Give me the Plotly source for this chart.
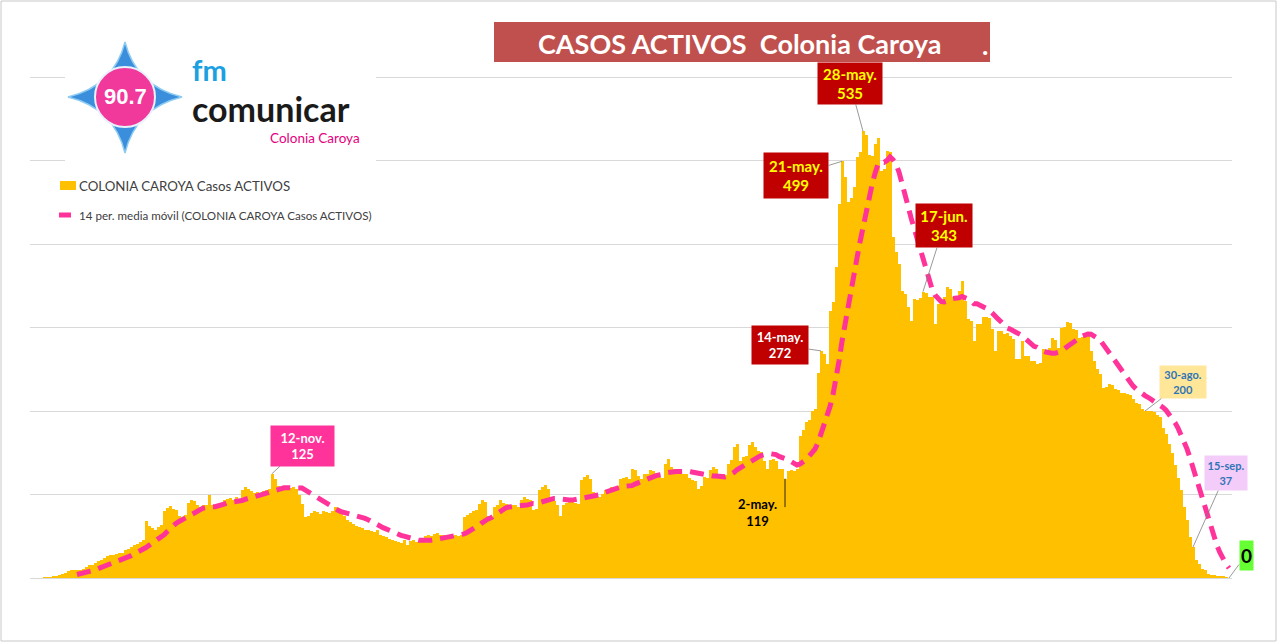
import pandas as pd
import plotly.graph_objects as go

# ---------------- DATA ----------------
start_date = "2020-08-26"
active_cases = [
    0, 0, 1, 1, 1, 2, 2, 4, 5, 6,                      # d0-9
    8, 9, 10, 10, 9, 11, 13, 15, 16, 18,               # d10-19
    20, 22, 24, 26, 27, 28, 29, 30, 30, 33,            # d20-29
    35, 37, 39, 41, 43, 45, 68, 62, 60, 58,            # d30-39
    61, 63, 80, 84, 86, 83, 81, 74, 71, 76,            # d40-49
    90, 93, 92, 88, 85, 88, 87, 99, 87, 85,            # d50-59
    89, 88, 93, 95, 96, 94, 97, 95, 105, 109,          # d60-69
    107, 104, 102, 103, 101, 104, 105, 107, 125, 118,  # d70-79
    110, 109, 108, 110, 108, 109, 107, 100, 89, 73,    # d80-89
    74, 78, 80, 79, 77, 80, 79, 78, 80, 85,            # d90-99
    84, 77, 74, 70, 67, 65, 62, 61, 60, 58,            # d100-109
    57, 56, 55, 57, 52, 50, 49, 47, 46, 44,            # d110-119
    43, 42, 45, 39, 44, 45, 43, 44, 48, 50,            # d120-129
    51, 50, 53, 54, 52, 51, 50, 52, 50, 51,            # d130-139
    50, 52, 73, 75, 78, 80, 81, 89, 93, 91,            # d140-149
    74, 72, 85, 88, 93, 90, 89, 86, 88, 87,            # d150-159
    85, 93, 97, 95, 94, 81, 83, 105, 109, 111,         # d160-169
    107, 95, 92, 88, 74, 87, 90, 91, 93, 90,           # d170-179
    89, 117, 121, 123, 119, 103, 99, 97, 101, 105,     # d180-189
    107, 109, 108, 110, 118, 120, 121, 119, 131, 129,  # d190-199
    122, 119, 124, 125, 129, 128, 122, 121, 120, 137,  # d200-209
    143, 133, 131, 130, 126, 125, 124, 120, 117, 116,  # d210-219
    107, 110, 121, 120, 129, 133, 131, 124, 121, 123,  # d220-229
    137, 141, 157, 161, 140, 145, 146, 159, 163, 157,  # d230-239
    152, 151, 140, 131, 141, 143, 140, 131, 130, 119,  # d240-249
    128, 129, 128, 130, 170, 177, 187, 189, 200, 203,  # d250-259
    245, 272, 268, 256, 320, 330, 372, 448, 499, 480,  # d260-269
    450, 455, 468, 504, 510, 535, 530, 507, 505, 520,  # d270-279
    527, 488, 490, 511, 510, 408, 390, 376, 344, 340,  # d280-289
    325, 308, 334, 333, 335, 343, 341, 336, 336, 304,  # d290-299
    328, 329, 336, 348, 346, 336, 337, 344, 356, 332,  # d300-309
    310, 308, 284, 304, 304, 312, 313, 311, 298, 272,  # d310-319
    296, 296, 292, 293, 290, 286, 262, 262, 284, 266,  # d320-329
    266, 260, 260, 256, 258, 274, 272, 276, 288, 285,  # d330-339
    276, 300, 301, 306, 305, 298, 297, 288, 289, 292,  # d340-349
    291, 272, 260, 250, 244, 228, 229, 232, 231, 226,  # d350-359
    225, 222, 221, 220, 219, 214, 210, 208, 202, 200,  # d360-369
    200, 200, 199, 195, 193, 180, 173, 160, 150, 135,  # d370-379
    120, 105, 85, 70, 49, 37, 22, 17, 11, 9,           # d380-389
    5, 4, 4, 3, 2, 2, 1, 0,                            # d390-397
]
series_names = ["COLONIA CAROYA Casos ACTIVOS",
                "14 per. media móvil (COLONIA CAROYA Casos ACTIVOS)"]
label_dates = ["2020-11-12", "2021-05-02", "2021-05-14", "2021-05-21",
               "2021-05-28", "2021-06-17", "2021-08-30", "2021-09-15", "2021-09-27"]
label_names = ["12-nov.", "2-may.", "14-may.", "21-may.",
               "28-may.", "17-jun.", "30-ago.", "15-sep.", ""]
title_text = "CASOS ACTIVOS  Colonia Caroya"

dates = pd.date_range(start_date, periods=len(active_cases), freq="D")
cases = pd.Series(active_cases, index=dates)
ma14 = cases.rolling(14).mean()

# ---------------- LAYOUT GEOMETRY ----------------
W, H = 1280, 644
L, R, T, B = 30, 1232, 74, 578
Y_TOP = (B - T) / (501 / 600)   # keeps 600 at y=77 px
FONT = "Lato, Carlito, Calibri, 'Open Sans', sans-serif"


def px(x):
    return (x - L) / (R - L)


def py(y):
    return (B - y) / (B - T)


def pt(x, y):
    return f"{px(x):.5f},{py(y):.5f}"


fig = go.Figure()
fig.add_trace(go.Bar(x=dates, y=cases.values, name=series_names[0],
                     marker=dict(color="#FFC000", line=dict(width=0)),
                     showlegend=False, hoverinfo="x+y"))
fig.add_trace(go.Scatter(x=dates, y=ma14.values, name=series_names[1], mode="lines",
                         line=dict(color="#FF3399", width=5, dash="14px,8px"),
                         showlegend=False, hoverinfo="x+y"))

shapes = []
annotations = []

# frame
shapes.append(dict(type="rect", xref="paper", yref="paper", x0=px(1), x1=px(1276),
                   y0=py(1), y1=py(641), line=dict(color="#C8C8C8", width=1),
                   fillcolor="rgba(0,0,0,0)", layer="above"))
# title box
shapes.append(dict(type="rect", xref="paper", yref="paper", x0=px(494), x1=px(990),
                   y0=py(22), y1=py(62), line=dict(width=0), fillcolor="#C0504D",
                   layer="above"))
annotations.append(dict(xref="paper", yref="paper", x=px(739), y=py(44), text="<b>" + title_text + "</b>",
                        showarrow=False, font=dict(family=FONT, size=27, color="white"),
                        xanchor="center", yanchor="middle"))
annotations.append(dict(xref="paper", yref="paper", x=px(985), y=py(45), text="<b>.</b>",
                        showarrow=False, font=dict(family=FONT, size=27, color="white"),
                        xanchor="center", yanchor="middle"))

# logo white background
shapes.append(dict(type="rect", xref="paper", yref="paper", x0=px(65), x1=px(376),
                   y0=py(28), y1=py(171), line=dict(width=0), fillcolor="white",
                   layer="above"))

star = ("M " + pt(125, 42) + " Q " + pt(136, 86) + " " + pt(182, 97) +
        " Q " + pt(136, 108) + " " + pt(125, 153) +
        " Q " + pt(114, 108) + " " + pt(68, 97) +
        " Q " + pt(114, 86) + " " + pt(125, 42) + " Z")
shapes.append(dict(type="path", xref="paper", yref="paper", path=star,
                   fillcolor="#3A8EDC", line=dict(color="#8CCBF2", width=1.5), layer="above"))
shapes.append(dict(type="circle", xref="paper", yref="paper", x0=px(95), x1=px(155),
                   y0=py(67), y1=py(127), fillcolor="#F0399B",
                   line=dict(color="#E8F2FC", width=2), layer="above"))
annotations.append(dict(xref="paper", yref="paper", x=px(125), y=py(97), text="<b>90.7</b>",
                        showarrow=False, font=dict(family="Liberation Sans, Arial", size=22, color="white"),
                        xanchor="center", yanchor="middle"))
# logo wordmark
annotations.append(dict(xref="paper", yref="paper", x=px(191), y=py(69), text="<b>fm</b>",
                        showarrow=False, borderpad=0,
                        font=dict(family="Lato, sans-serif", size=29, color="#1BA0E2"),
                        xanchor="left", yanchor="middle"))
annotations.append(dict(xref="paper", yref="paper", x=px(191), y=py(108.5), text="<b>comunicar</b>",
                        showarrow=False, borderpad=0,
                        font=dict(family="Lato, sans-serif", size=34, color="#1A1A1A"),
                        xanchor="left", yanchor="middle"))
annotations.append(dict(xref="paper", yref="paper", x=px(361), y=py(138), text="Colonia Caroya",
                        showarrow=False, borderpad=0,
                        font=dict(family="Lato, sans-serif", size=13.5, color="#E6007E"),
                        xanchor="right", yanchor="middle"))

# custom legend
shapes.append(dict(type="rect", xref="paper", yref="paper", x0=px(60), x1=px(76),
                   y0=py(181), y1=py(190), line=dict(width=0), fillcolor="#FFC000", layer="above"))
annotations.append(dict(xref="paper", yref="paper", x=px(77), y=py(186), text=series_names[0],
                        showarrow=False, font=dict(family=FONT, size=13.3, color="#404040"),
                        xanchor="left", yanchor="middle"))
shapes.append(dict(type="line", xref="paper", yref="paper", x0=px(59), x1=px(71),
                   y0=py(215), y1=py(215), line=dict(color="#FF3399", width=5), layer="above"))
annotations.append(dict(xref="paper", yref="paper", x=px(77), y=py(215), text=series_names[1],
                        showarrow=False, font=dict(family=FONT, size=11.6, color="#404040"),
                        xanchor="left", yanchor="middle"))

# data labels
label_styles = [
    dict(ax=30, ay=-28, w=63, h=40, bg="#FF3399", fc="white", fs=13),
    dict(ax=-28, ay=34, w=50, h=38, bg=None, fc="black", fs=13),
    dict(ax=-41, ay=-6, w=56, h=38, bg="#C00000", fc="white", fs=13),
    dict(ax=-46, ay=14, w=64, h=45, bg="#C00000", fc="#FFFF00", fs=15),
    dict(ax=-13, ay=-48, w=64, h=41, bg="#C00000", fc="#FFFF00", fs=15),
    dict(ax=21, ay=-66, w=56, h=43, bg="#C00000", fc="#FFFF00", fs=15),
    dict(ax=38, ay=-29, w=46, h=32, bg="#FFE699", fc="#2E75B6", fs=11),
    dict(ax=33, ay=-74, w=42, h=34, bg="#F4CCF9", fc="#2E75B6", fs=11),
    dict(ax=17, ay=-23, w=13, h=29, bg="#66FF33", fc="black", fs=19),
]
for d, name, st in zip(label_dates, label_names, label_styles):
    val = int(cases.loc[pd.Timestamp(d)])
    txt = f"<b>{name}<br>{val}</b>" if name else f"<b>{val}</b>"
    if st["bg"] is None:
        annotations.append(dict(x=d, y=val, xref="x", yref="y", text="", showarrow=True,
                                arrowhead=0, arrowwidth=0.8, arrowcolor="#000000",
                                ax=0, ay=30, standoff=0))
        annotations.append(dict(x=d, y=val, xref="x", yref="y", text=txt, showarrow=False,
                                xshift=st["ax"], yshift=-st["ay"],
                                font=dict(family=FONT, size=st["fs"], color=st["fc"]),
                                xanchor="center", yanchor="middle"))
        continue
    annotations.append(dict(x=d, y=val, xref="x", yref="y", text=txt, showarrow=True,
                            arrowhead=0, arrowwidth=0.8, arrowcolor="#7F7F7F",
                            ax=st["ax"], ay=st["ay"], standoff=0,
                            bgcolor=st["bg"], borderpad=0, width=st["w"], height=st["h"],
                            font=dict(family=FONT, size=st["fs"], color=st["fc"]),
                            align="center", valign="middle"))

x_start = pd.Timestamp(start_date) - pd.Timedelta(hours=64)
x_end = pd.Timestamp(start_date) + pd.Timedelta(days=len(active_cases))

fig.update_layout(
    width=W, height=H,
    margin=dict(l=L, r=W - R, t=T, b=H - B, pad=0),
    paper_bgcolor="white", plot_bgcolor="white",
    bargap=0,
    shapes=shapes, annotations=annotations,
    font=dict(family=FONT),
    xaxis=dict(range=[x_start, x_end], showgrid=False, showticklabels=False,
               ticks="", zeroline=False, showline=False),
    yaxis=dict(range=[0, Y_TOP], tickvals=[0, 100, 200, 300, 400, 500, 600],
               showgrid=True, gridcolor="#D9D9D9",
               gridwidth=1, showticklabels=False, ticks="", zeroline=True,
               zerolinecolor="#D9D9D9", zerolinewidth=1, showline=False),
)

fig.write_html("out.html", config={"displayModeBar": False})
